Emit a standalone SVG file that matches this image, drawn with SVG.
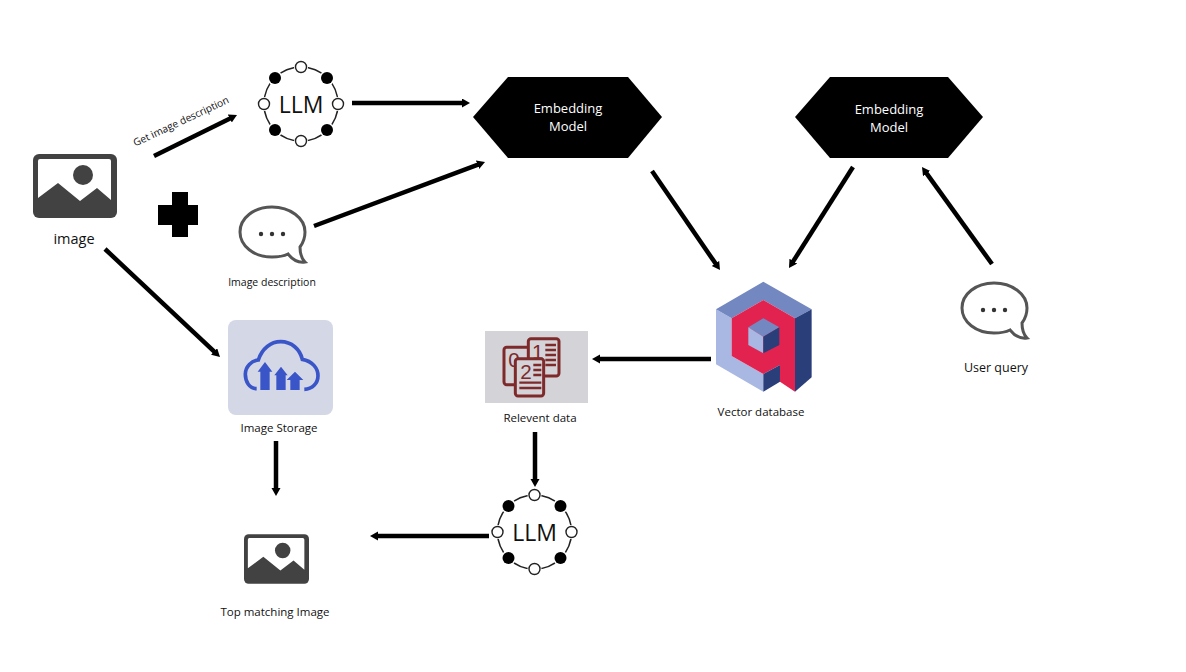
<svg xmlns="http://www.w3.org/2000/svg" width="1186" height="672" viewBox="0 0 1186 672">
<style>
text{font-family:"Open Sans","Noto Sans","Liberation Sans",sans-serif;fill:#111;text-anchor:middle}
.c line{stroke:#000;stroke-width:4.5;marker-end:url(#ah)}
.hex{fill:#000}
.hex-t{fill:#fff;font-size:13px}
.lbl{font-size:11.5px}
.ring{fill:none;stroke:#222;stroke-width:1.5}
.gap{fill:#fff}
.o{fill:#fff;stroke:#222;stroke-width:1.4}
.b{fill:#000}
.doc{fill:#d3d3d8;stroke:#7e2a2a;stroke-width:9}
.dt{fill:#7e2a2a;font-size:62px;font-family:"Liberation Sans",sans-serif}
.dl{stroke:#7e2a2a;stroke-width:7}
</style>
<defs>
<marker id="ah" markerUnits="userSpaceOnUse" markerWidth="10" markerHeight="10" refX="2" refY="4.5" orient="auto"><path d="M0,0L8,4.5L0,9Z" fill="#000"/></marker>
<symbol id="pic" viewBox="0 0 84 64" overflow="visible">
<rect width="84" height="64" rx="6" fill="#424242"/>
<path d="M5,44V7Q5,5 7,5H76Q78,5 78,7V46L64,34L47,47L25,29Z" fill="#fff"/>
<circle cx="50" cy="21" r="10" fill="#424242"/>
</symbol>
<symbol id="bub" viewBox="0 0 70 60" overflow="visible">
<path d="M34,2C16,2 2,13 2,27C2,41 16,52 34,52C40,52 46,51 50,49C54,54 60,58 67,57C63,53 62,48 62,42C65,38 67,33 67,27C67,13 52,2 34,2Z" fill="#fff" stroke="#555" stroke-width="3"/>
<circle cx="23" cy="29" r="2.2" fill="#333"/><circle cx="34" cy="29" r="2.2" fill="#333"/><circle cx="45" cy="29" r="2.2" fill="#333"/>
</symbol>
<g id="llm">
<circle class="ring" r="37"/>
<circle class="gap" cx="0" cy="-37" r="7"/><circle class="gap" cx="37" cy="0" r="7"/><circle class="gap" cx="0" cy="37" r="7"/><circle class="gap" cx="-37" cy="0" r="7"/>
<circle class="gap" cx="-26" cy="-26" r="7.5"/><circle class="gap" cx="26" cy="-26" r="7.5"/><circle class="gap" cx="26" cy="26" r="7.5"/><circle class="gap" cx="-26" cy="26" r="7.5"/>
<circle class="o" cx="0" cy="-37" r="5.5"/><circle class="o" cx="37" cy="0" r="5.5"/><circle class="o" cx="0" cy="37" r="5.5"/><circle class="o" cx="-37" cy="0" r="5.5"/>
<circle class="b" cx="-26" cy="-26" r="6"/><circle class="b" cx="26" cy="-26" r="6"/><circle class="b" cx="26" cy="26" r="6"/><circle class="b" cx="-26" cy="26" r="6"/>
<text y="8.5" font-size="23">LLM</text>
</g>
</defs>
<rect width="1186" height="672" fill="#fff"/>
<g id="connectors" class="c">
<line x1="154" y1="156" x2="231.6" y2="117.7"/>
<line x1="352" y1="103" x2="464" y2="103"/>
<line x1="314" y1="226" x2="479.4" y2="164.1"/>
<line x1="652" y1="171" x2="716.6" y2="265.1"/>
<line x1="853" y1="167" x2="792.2" y2="262.9"/>
<line x1="992" y1="264" x2="925.5" y2="171.9"/>
<line x1="105" y1="249" x2="215.6" y2="352.9"/>
<line x1="711" y1="359" x2="598" y2="359"/>
<line x1="535" y1="432" x2="535" y2="481"/>
<line x1="276" y1="441" x2="276" y2="490"/>
<line x1="489" y1="536" x2="376" y2="536"/>
</g>
<text transform="translate(182.5,124.5) rotate(-25)" font-size="10.2">Get image description</text>
<g id="image"><use href="#pic" x="33" y="154" width="84" height="64"/><text x="74" y="244" font-size="14.5">image</text></g>
<g id="plus"><path d="M172,192H188V205H198V225H188V237H172V225H158V205H172Z" fill="#000"/></g>
<g id="llm-top"><use href="#llm" x="301" y="104"/></g>
<g id="image-description"><use href="#bub" x="238" y="205" width="70" height="60"/><text x="272" y="286" font-size="10.5">Image description</text></g>
<g id="embedding-1"><path class="hex" d="M473,117L508,77H628L662,117L628,158H508Z"/><text class="hex-t" x="568" y="113">Embedding</text><text class="hex-t" x="568" y="131">Model</text></g>
<g id="embedding-2"><path class="hex" d="M795,117L830,77H948L983,117L948,158H830Z"/><text class="hex-t" x="889" y="114">Embedding</text><text class="hex-t" x="889" y="132">Model</text></g>
<g id="vector-database">
<g transform="translate(700,270) scale(.3333)">
<path d="M48,118L95,145V258L190,312V365L48,283Z" fill="#a9b7e3"/>
<path d="M190,35L335,118L285,145L190,90L95,145L48,118Z" fill="#7388c0"/>
<path d="M335,118V322L285,365V145Z" fill="#2a3e7a"/>
<path d="M95,145L190,90L285,145V365L240,335V285L190,312L95,258Z" fill="#e2234f"/>
<path d="M190,312L240,285V335L190,365Z" fill="#2a3e7a"/>
<path d="M190,145L238,172L190,200L145,172Z" fill="#7388c0"/>
<path d="M145,172L190,200V250L145,225Z" fill="#a9b7e3"/>
<path d="M238,172V225L190,250V200Z" fill="#2a3e7a"/>
</g>
<text class="lbl" x="761" y="416">Vector database</text>
</g>
<g id="relevent-data">
<rect x="485" y="331" width="103" height="72" fill="#d3d3d8"/>
<g transform="translate(470,320) scale(.3333)">
<rect class="doc" x="102" y="82" width="76" height="112" rx="8"/>
<text class="dt" x="132" y="140">0</text>
<rect class="doc" x="175" y="56" width="92" height="112" rx="8"/>
<text class="dt" x="203" y="116">1</text>
<path class="dl" d="M226,75H258M226,90H258M226,105H258M226,120H258M226,135H258"/>
<rect class="doc" x="136" y="116" width="85" height="112" rx="8"/>
<text class="dt" x="168" y="176">2</text>
<path class="dl" d="M190,135H214M190,150H214M190,165H214M148,188H214M148,204H214"/>
</g>
<text class="lbl" x="540" y="422">Relevent data</text>
</g>
<g id="image-storage">
<rect x="228" y="320" width="105" height="95" rx="8" fill="#d3d7e6"/>
<g transform="translate(215,310) scale(.3333)">
<path d="M125,236C103,236 91,215 91,193C91,170 110,152 130,150C141,115 168,95 197,95C230,95 255,118 262,148C292,153 309,175 309,197C309,220 292,237 268,238" fill="none" stroke="#3a55c8" stroke-width="11"/>
<path d="M150,156L172,185H164V240H136V185H128ZM198,170L218,196H212V240H184V196H178ZM240,185L265,210H254V240H226V210H215Z" fill="#3a55c8"/>
</g>
<text class="lbl" x="279" y="432">Image Storage</text>
</g>
<g id="llm-bottom"><use href="#llm" x="534.5" y="532"/></g>
<g id="top-matching-image"><use href="#pic" x="244" y="534" width="65" height="50"/><text class="lbl" x="275" y="616">Top matching Image</text></g>
<g id="user-query"><use href="#bub" x="960" y="281" width="70" height="60"/><text x="996" y="372" font-size="12.5">User query</text></g>
</svg>
